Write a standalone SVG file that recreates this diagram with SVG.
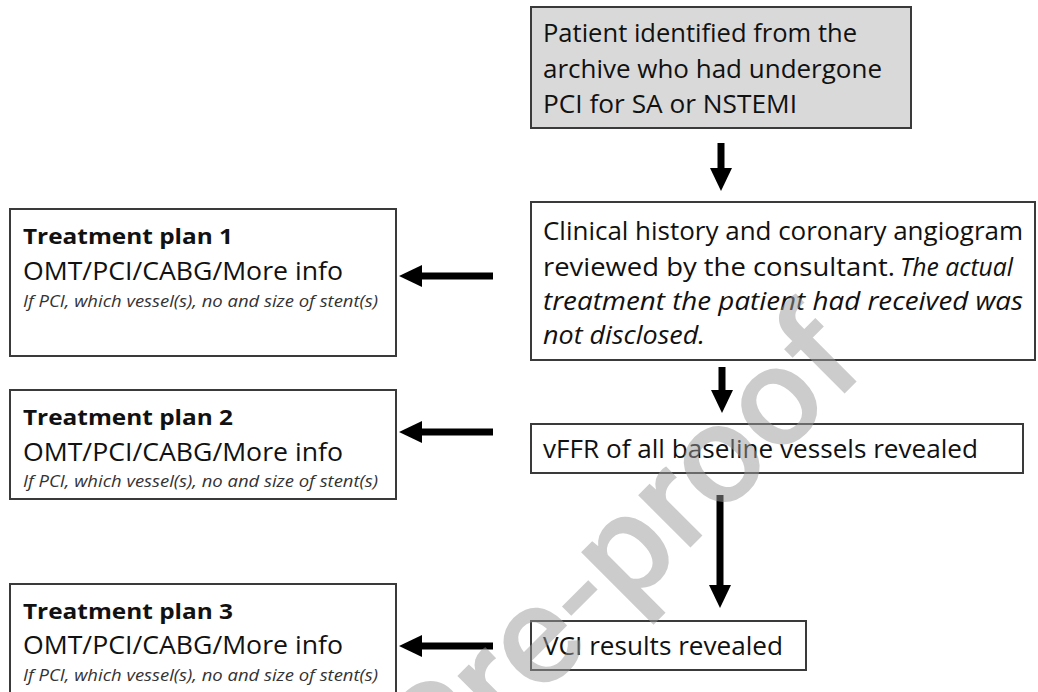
<svg xmlns="http://www.w3.org/2000/svg" width="1038" height="692" viewBox="0 0 1038 692">
<style>
.box{fill:#fff;stroke:#3a3a3a;stroke-width:2}
.gray{fill:#d9d9d9}
.t{font-family:"Open Sans","Noto Sans","Liberation Sans",sans-serif;fill:#111;font-size:25px}
.b{font-weight:bold;font-size:22px}
.i{font-style:italic}
.s{font-style:italic;font-size:16px;fill:#333}
.arr{stroke:#000;stroke-width:7;fill:none;marker-end:url(#ah)}
.wm{font-family:Roboto,"Open Sans","Liberation Sans",sans-serif;font-weight:500;font-size:140px;fill:#9a9a9a;opacity:.5}
</style>
<defs>
<marker id="ah" markerUnits="userSpaceOnUse" viewBox="0 0 23 22" markerWidth="23" markerHeight="22" refX="0" refY="11" orient="auto">
<path d="M0,0 L23,11 L0,22 Z" fill="#000"/>
</marker>
</defs>
<rect width="1038" height="692" fill="#fff"/>

<g id="connectors">
<line class="arr" x1="721" y1="143" x2="721" y2="168"/>
<line class="arr" x1="722" y1="367" x2="722" y2="390"/>
<line class="arr" x1="720" y1="495" x2="720" y2="585"/>
<line class="arr" x1="493" y1="276" x2="422" y2="276"/>
<line class="arr" x1="493" y1="432" x2="422" y2="432"/>
<line class="arr" x1="493" y1="646" x2="422" y2="646"/>
</g>

<g id="patient">
<rect class="box gray" x="531" y="7" width="380" height="121"/>
<text class="t" x="543" y="42" textLength="314" lengthAdjust="spacingAndGlyphs">Patient identified from the</text>
<text class="t" x="543" y="78" textLength="339" lengthAdjust="spacingAndGlyphs">archive who had undergone</text>
<text class="t" x="543" y="113" textLength="254" lengthAdjust="spacingAndGlyphs">PCI for SA or NSTEMI</text>
</g>

<g id="clinical">
<rect class="box" x="531" y="202" width="504" height="158"/>
<text class="t" x="543" y="240" textLength="480" lengthAdjust="spacingAndGlyphs">Clinical history and coronary angiogram</text>
<text class="t" x="543" y="276" textLength="352" lengthAdjust="spacingAndGlyphs">reviewed by the consultant.</text>
<text class="t i" x="900" y="276" textLength="113" lengthAdjust="spacingAndGlyphs">The actual</text>
<text class="t i" x="543" y="310" textLength="480" lengthAdjust="spacingAndGlyphs">treatment the patient had received was</text>
<text class="t i" x="543" y="344" textLength="162" lengthAdjust="spacingAndGlyphs">not disclosed.</text>
</g>

<g id="vffr">
<rect class="box" x="531" y="424" width="492" height="49"/>
<text class="t" x="543" y="458" textLength="435" lengthAdjust="spacingAndGlyphs">vFFR of all baseline vessels revealed</text>
</g>

<g id="vci">
<rect class="box" x="531" y="621" width="275" height="49"/>
<text class="t" x="543" y="655" textLength="240" lengthAdjust="spacingAndGlyphs">VCI results revealed</text>
</g>

<g id="plan1">
<rect class="box" x="10" y="209" width="386" height="147"/>
<text class="t b" x="23" y="244" textLength="210" lengthAdjust="spacingAndGlyphs">Treatment plan 1</text>
<text class="t" x="23" y="280" textLength="320" lengthAdjust="spacingAndGlyphs">OMT/PCI/CABG/More info</text>
<text class="t s" x="23" y="307" textLength="355" lengthAdjust="spacingAndGlyphs">If PCI, which vessel(s), no and size of stent(s)</text>
</g>

<g id="plan2">
<rect class="box" x="10" y="390" width="386" height="109"/>
<text class="t b" x="23" y="425" textLength="210" lengthAdjust="spacingAndGlyphs">Treatment plan 2</text>
<text class="t" x="23" y="461" textLength="320" lengthAdjust="spacingAndGlyphs">OMT/PCI/CABG/More info</text>
<text class="t s" x="23" y="487" textLength="355" lengthAdjust="spacingAndGlyphs">If PCI, which vessel(s), no and size of stent(s)</text>
</g>

<g id="plan3">
<rect class="box" x="10" y="584" width="386" height="120"/>
<text class="t b" x="23" y="619" textLength="210" lengthAdjust="spacingAndGlyphs">Treatment plan 3</text>
<text class="t" x="23" y="654" textLength="320" lengthAdjust="spacingAndGlyphs">OMT/PCI/CABG/More info</text>
<text class="t s" x="23" y="681" textLength="355" lengthAdjust="spacingAndGlyphs">If PCI, which vessel(s), no and size of stent(s)</text>
</g>

<text class="wm" transform="translate(870,368) rotate(-45)" text-anchor="end" textLength="610" lengthAdjust="spacingAndGlyphs">Pre-proof</text>
</svg>
